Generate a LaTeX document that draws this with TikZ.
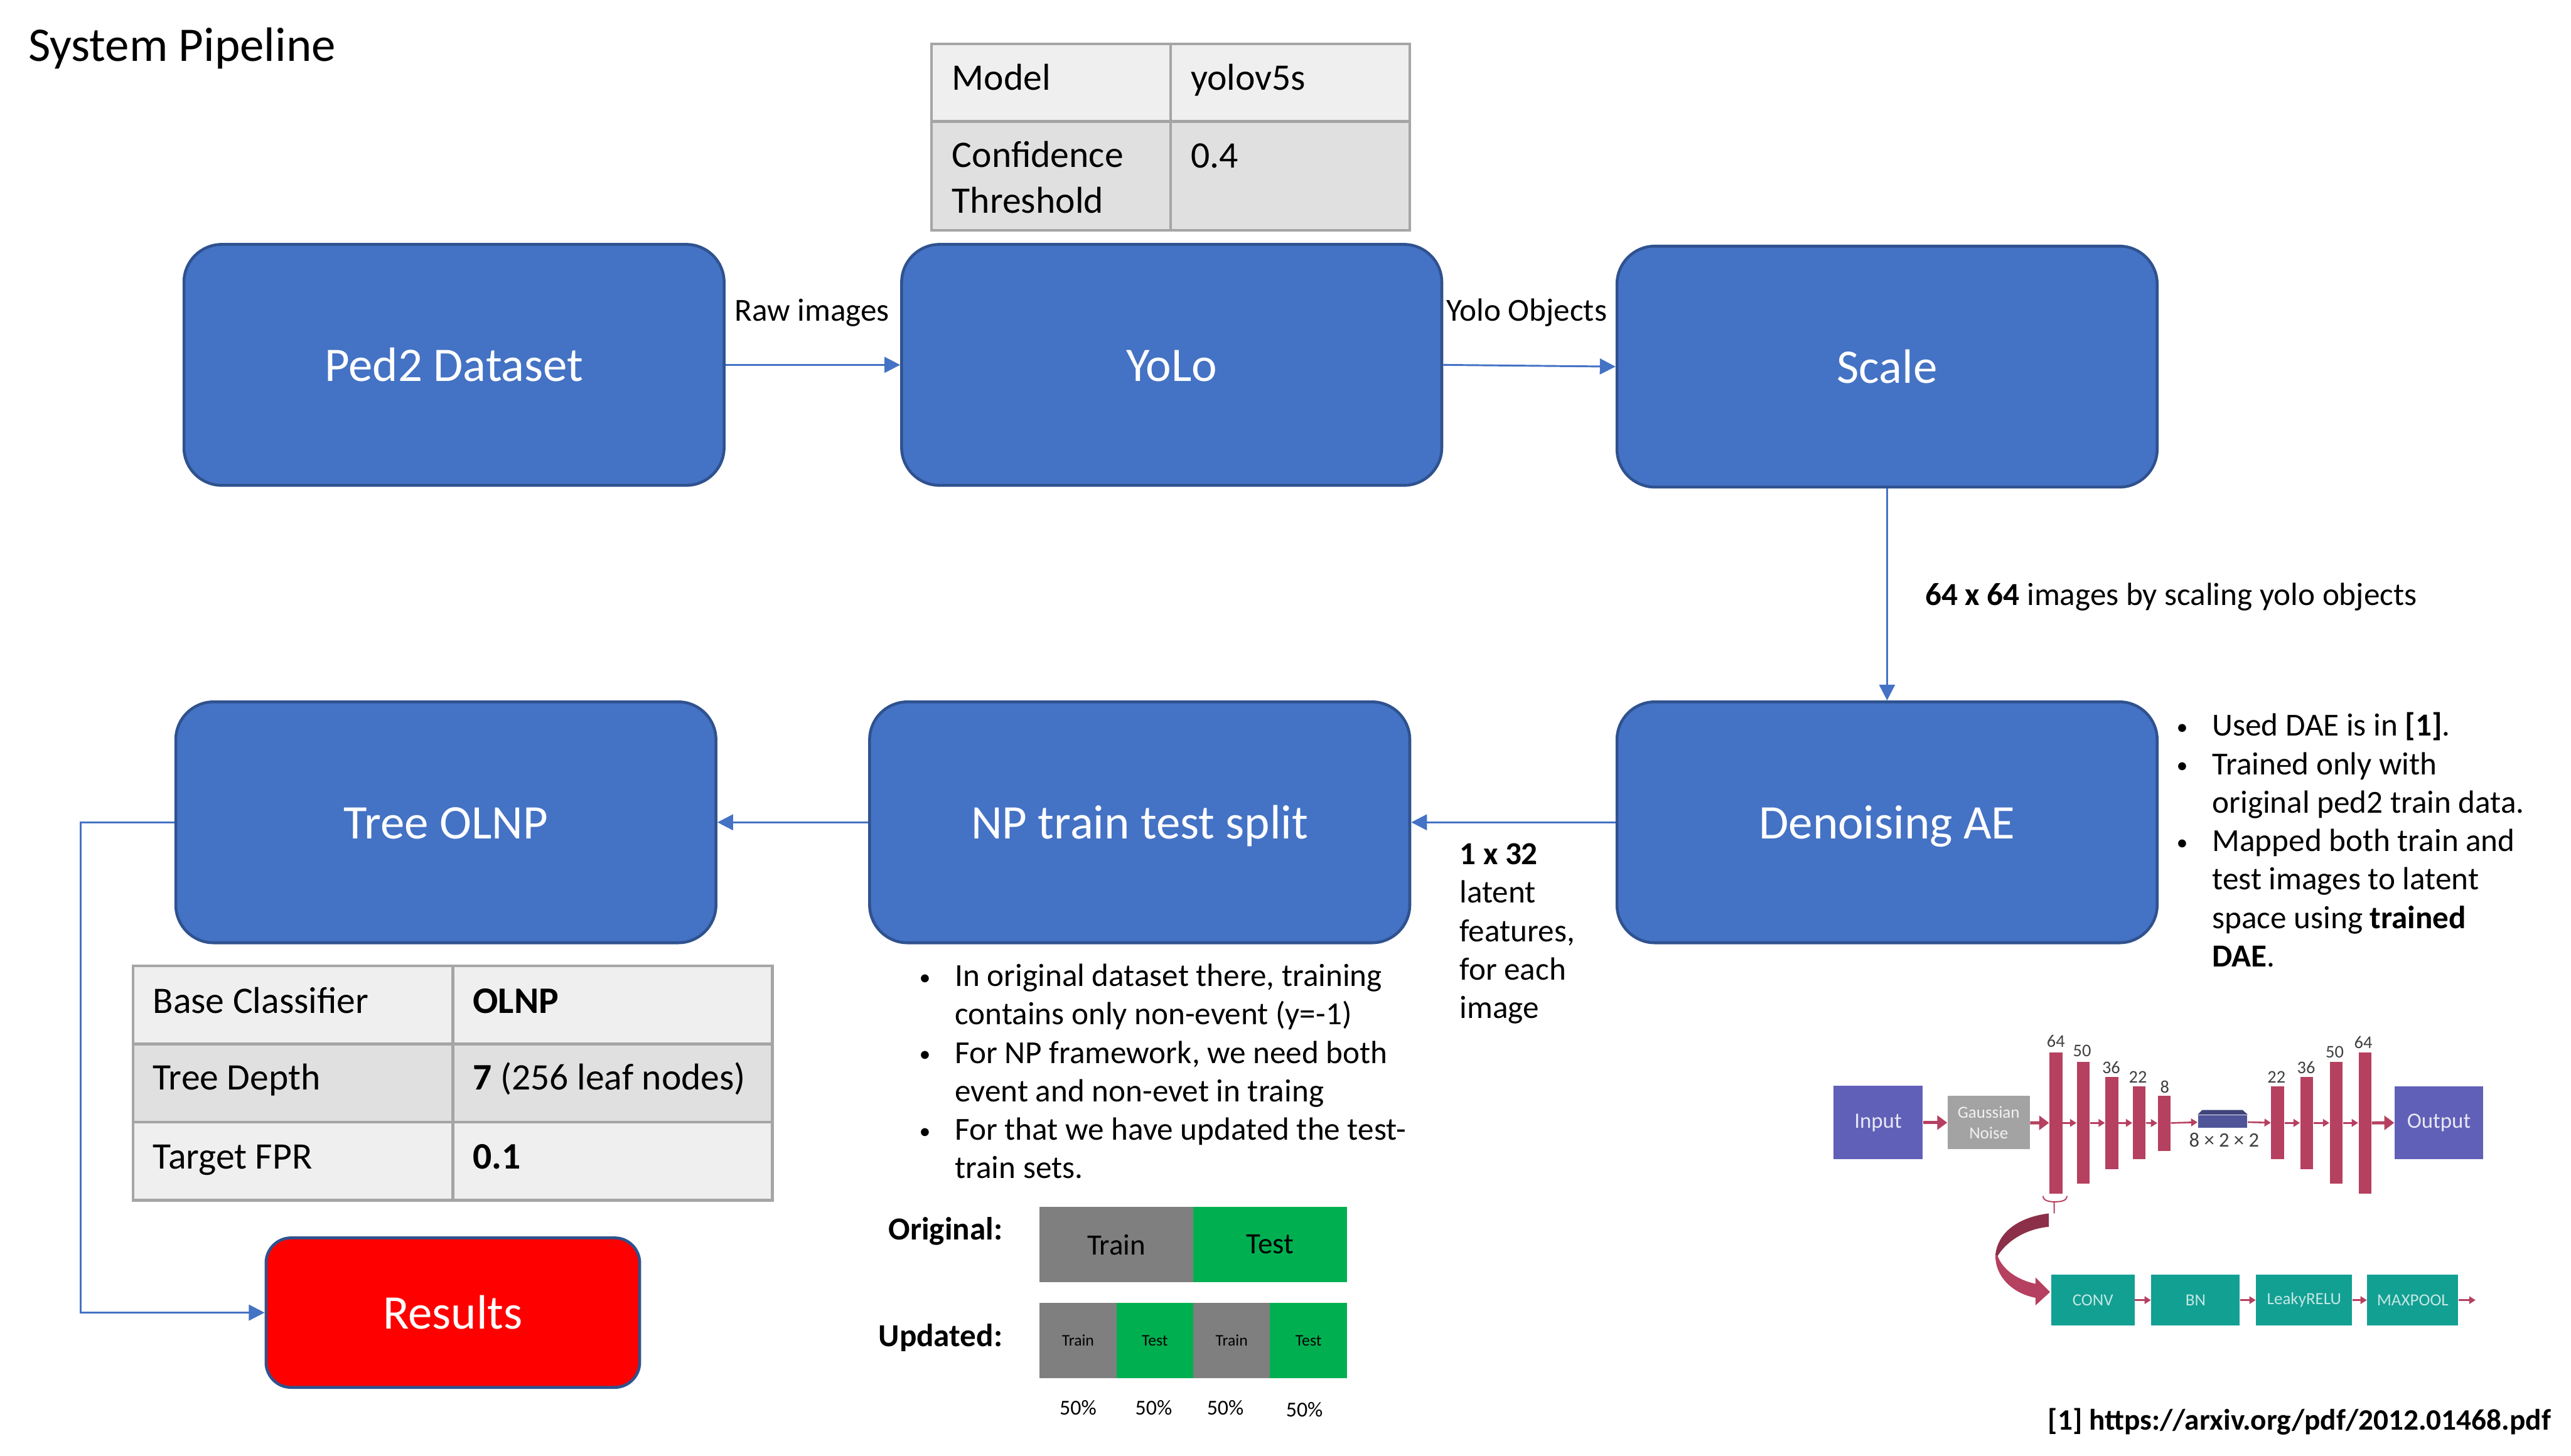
\documentclass[tikz,border=0pt]{standalone}
\usepackage{fontspec}
\setmainfont{Carlito}
\usetikzlibrary{positioning, arrows.meta, calc}
\definecolor{boxblue}{HTML}{4472C4}
\definecolor{boxedge}{HTML}{2F528F}
\definecolor{tablegrid}{HTML}{A5A5A5}
\definecolor{rowlight}{HTML}{EFEFEF}
\definecolor{rowdark}{HTML}{E0E0E0}
\definecolor{traingray}{HTML}{7F7F7F}
\definecolor{testgreen}{HTML}{00B050}
\definecolor{netpurple}{HTML}{6060B8}
\definecolor{netgray}{HTML}{A3A3A3}
\definecolor{netred}{HTML}{B5405F}
\definecolor{netreddark}{HTML}{8B3048}
\definecolor{netteal}{HTML}{12A093}
\definecolor{netblock}{HTML}{50559A}
\newcommand{\bitem}{\llap{\raisebox{0.7pt}{\fontsize{11}{11}\selectfont\textbullet}\hspace{4.2mm}}}

\begin{document}
\begin{tikzpicture}[
    % Styles
    stagebox/.style={rectangle, draw=boxedge, line width=1.4pt, fill=boxblue, rounded corners=6.5mm, minimum width=9.28cm, minimum height=4.14cm, text=white, text height=0.66cm, text depth=0.1cm, font=\fontsize{23.6}{28}\selectfont},
    resultbox/.style={stagebox, fill=red, rounded corners=4.3mm, minimum width=6.42cm, minimum height=2.57cm},
    cell/.style={rectangle, draw=tablegrid, line width=1.3pt, minimum height=1.34cm},
    celltext/.style={anchor=base west, inner sep=0pt, align=left, font=\fontsize{18.3}{22.5}\selectfont},
    note/.style={inner sep=0pt, align=left, font=\fontsize{15.7}{18.8}\selectfont},
    splitcell/.style={rectangle, minimum height=1.29cm, inner sep=0pt},
    arrow/.style={-{Triangle[length=2.7mm,width=2.7mm]}, line width=0.9pt, boxblue},
    netbox/.style={rectangle, inner sep=0pt, font=\fontsize{10.7}{12.8}\selectfont, text=white!85!netpurple},
    barnode/.style={rectangle, fill=netred, inner sep=0pt, minimum width=0.22cm},
    tealbox/.style={rectangle, fill=netteal, inner sep=0pt, minimum height=0.87cm, font=\fontsize{8.3}{10}\selectfont, text=white!75!netteal},
    sizelabel/.style={inner sep=0pt, text=black!75, font=\fontsize{8.7}{10}\selectfont},
    netarrow/.style={-{Triangle[length=1.1mm,width=1.3mm]}, line width=0.8pt, netred},
    fatarrow/.style={-{Triangle[length=1.7mm,width=2.4mm]}, line width=1.5pt, netred}
]
\useasboundingbox (0,0) rectangle (44.17,25.01);

% ==================== TITLE ====================
\node[anchor=west, inner sep=0pt, font=\fontsize{23.6}{28}\selectfont] (title) at (0.48, 24.18) {System Pipeline};

% ==================== PIPELINE ====================
\node[stagebox] (ped) at (7.80, 18.74) {Ped2 Dataset};
\node[stagebox] (yolo) at (20.13, 18.74) {YoLo};
\node[stagebox] (scale) at (32.42, 18.71) {Scale};
\node[stagebox] (dae) at (32.42, 10.88) {Denoising AE};
\node[stagebox] (split) at (19.58, 10.88) {NP train test split};
\node[stagebox] (tree) at (7.66, 10.88) {Tree OLNP};
\node[resultbox] (results) at (7.78, 2.455) {Results};

\draw[arrow] (ped.east) -- (yolo.west);
\draw[arrow] (yolo.east) -- (scale.west);
\draw[arrow] (scale.south) -- (dae.north);
\draw[arrow] (dae.west) -- (split.east);
\draw[arrow] (split.west) -- (tree.east);
\draw[arrow] (tree.west) -- ++(-1.61,0) |- (results.west);

\node[note] (rawlabel) at (13.95, 19.635) {Raw images};
\node[note] (objlabel) at (26.23, 19.635) {Yolo Objects};
\node[note, anchor=west] (scalelabel) at (33.07, 14.75) {\textbf{64 x 64} images by scaling yolo objects};
\node[note, anchor=west] (latentlabel) at (25.07, 8.965) {\textbf{1 x 32}\\latent\\features,\\for each\\image};

% ==================== YOLO TABLE ====================
\node[cell, fill=rowlight, minimum width=4.11cm, minimum height=1.335cm] (modelcell) at (18.055, 23.59) {};
\node[cell, fill=rowlight, minimum width=4.11cm, minimum height=1.335cm] (modelval) at (22.165, 23.59) {};
\node[cell, fill=rowdark, minimum width=4.11cm, minimum height=1.87cm] (confcell) at (18.055, 21.985) {};
\node[cell, fill=rowdark, minimum width=4.11cm, minimum height=1.87cm] (confval) at (22.165, 21.985) {};
\node[celltext] (modeltext) at (16.35, 23.46) {Model};
\node[celltext] (yolotext) at (20.45, 23.46) {yolov5s};
\node[celltext] (conftext) at (16.35, 21.35) {Confidence\\Threshold};
\node[celltext] (conftextval) at (20.45, 22.12) {0.4};

% ==================== TREE TABLE ====================
\node[cell, fill=rowlight, minimum width=5.49cm] (basecell) at (5.035, 7.74) {};
\node[cell, fill=rowlight, minimum width=5.49cm] (baseval) at (10.525, 7.74) {};
\node[cell, fill=rowdark, minimum width=5.49cm] (depthcell) at (5.035, 6.395) {};
\node[cell, fill=rowdark, minimum width=5.49cm] (depthval) at (10.525, 6.395) {};
\node[cell, fill=rowlight, minimum width=5.49cm] (fprcell) at (5.035, 5.055) {};
\node[cell, fill=rowlight, minimum width=5.49cm] (fprval) at (10.525, 5.055) {};
\node[celltext] (basetext) at (2.62, 7.60) {Base Classifier};
\node[celltext] (olnptext) at (8.12, 7.60) {\textbf{OLNP}};
\node[celltext] (depthtext) at (2.62, 6.28) {Tree Depth};
\node[celltext] (leaftext) at (8.12, 6.28) {\textbf{7} (256 leaf nodes)};
\node[celltext] (fprtext) at (2.62, 4.93) {Target FPR};
\node[celltext] (fprnum) at (8.12, 4.93) {\textbf{0.1}};

% ==================== NOTES ====================
\node[note, anchor=west] (splitnotes) at (16.40, 6.60) {\bitem In original dataset there, training\\contains only non-event (y=-1)\\\bitem For NP framework, we need both\\event and non-evet in traing\\\bitem For that we have updated the test-\\train sets.};
\node[note, anchor=west] (daenotes) at (38.00, 10.58) {\bitem Used DAE is in \textbf{[1]}.\\\bitem Trained only with\\original ped2 train data.\\\bitem Mapped both train and\\test images to latent\\space using \textbf{trained}\\\textbf{DAE}.};

% ==================== TRAIN TEST SPLITS ====================
\node[note, anchor=east, font=\fontsize{15.7}{18.8}\selectfont\bfseries] (origlabel) at (17.23, 3.85) {Original:};
\node[note, anchor=east, font=\fontsize{15.7}{18.8}\selectfont\bfseries] (updlabel) at (17.23, 2.02) {Updated:};

\node[splitcell, fill=traingray, minimum width=2.64cm, font=\fontsize{14.4}{17}\selectfont] (origtrain) at (19.18, 3.625) {Train};
\node[splitcell, fill=testgreen, minimum width=2.64cm, font=\fontsize{14.4}{17}\selectfont] (origtest) at (21.82, 3.625) {Test};
\node[splitcell, fill=traingray, minimum width=1.32cm, font=\fontsize{7.9}{9}\selectfont] (updtraina) at (18.52, 1.975) {Train};
\node[splitcell, fill=testgreen, minimum width=1.32cm, font=\fontsize{7.9}{9}\selectfont] (updtesta) at (19.84, 1.975) {Test};
\node[splitcell, fill=traingray, minimum width=1.32cm, font=\fontsize{7.9}{9}\selectfont] (updtrainb) at (21.16, 1.975) {Train};
\node[splitcell, fill=testgreen, minimum width=1.32cm, font=\fontsize{7.9}{9}\selectfont] (updtestb) at (22.48, 1.975) {Test};

\node[inner sep=0pt, font=\fontsize{10.4}{12}\selectfont] (pcta) at (18.52, 0.82) {50\%};
\node[inner sep=0pt, font=\fontsize{10.4}{12}\selectfont] (pctb) at (19.82, 0.82) {50\%};
\node[inner sep=0pt, font=\fontsize{10.4}{12}\selectfont] (pctc) at (21.05, 0.82) {50\%};
\node[inner sep=0pt, font=\fontsize{10.4}{12}\selectfont] (pctd) at (22.41, 0.79) {50\%};

% ==================== DAE NETWORK ====================
\node[netbox, fill=netpurple, minimum width=1.53cm, minimum height=1.26cm] (input) at (32.265, 5.72) {Input};
\node[netbox, fill=netgray, minimum width=1.41cm, minimum height=0.92cm, align=center, font=\fontsize{8.3}{10}\selectfont, text=white!85!netgray] (noise) at (34.165, 5.72) {Gaussian\\Noise};
\node[barnode, minimum height=2.43cm] (enca) at (35.32, 5.715) {};
\node[barnode, minimum height=2.09cm] (encb) at (35.79, 5.715) {};
\node[barnode, minimum height=1.58cm] (encc) at (36.28, 5.715) {};
\node[barnode, minimum height=1.25cm] (encd) at (36.75, 5.715) {};
\node[barnode, minimum height=0.95cm] (ence) at (37.18, 5.71) {};
\node[rectangle, fill=netblock, inner sep=0pt, minimum width=0.85cm, minimum height=0.22cm] (latent) at (38.185, 5.74) {};
\fill[netblock!80!black] (latent.north west) -- ++(0.08,0.08) -- ($(latent.north east)+(-0.09,0.08)$) -- (latent.north east) -- cycle;
\node[barnode, minimum height=1.25cm] (decd) at (39.13, 5.715) {};
\node[barnode, minimum height=1.58cm] (decc) at (39.63, 5.715) {};
\node[barnode, minimum height=2.09cm] (decb) at (40.135, 5.715) {};
\node[barnode, minimum height=2.43cm] (deca) at (40.63, 5.715) {};
\node[netbox, fill=netpurple, minimum width=1.52cm, minimum height=1.25cm] (output) at (41.90, 5.72) {Output};

\node[sizelabel] (sizea) at (35.32, 7.12) {64};
\node[sizelabel] (sizeb) at (35.77, 6.95) {50};
\node[sizelabel] (sizec) at (36.27, 6.67) {36};
\node[sizelabel] (sized) at (36.73, 6.50) {22};
\node[sizelabel] (sizee) at (37.19, 6.33) {8};
\node[sizelabel, font=\fontsize{10}{12}\selectfont] (sizelatent) at (38.21, 5.42) {8 × 2 × 2};
\node[sizelabel] (sizef) at (39.11, 6.50) {22};
\node[sizelabel] (sizeg) at (39.62, 6.67) {36};
\node[sizelabel] (sizeh) at (40.11, 6.93) {50};
\node[sizelabel] (sizei) at (40.60, 7.10) {64};

\draw[fatarrow] (input) -- (noise);
\draw[fatarrow] (noise) -- (enca);
\draw[netarrow] (enca) -- (encb);
\draw[netarrow] (encb) -- (encc);
\draw[netarrow] (encc) -- (encd);
\draw[netarrow] (encd) -- (ence);
\draw[netarrow] (ence) -- (latent);
\draw[netarrow] (latent) -- (decd);
\draw[netarrow] (decd) -- (decc);
\draw[netarrow] (decc) -- (decb);
\draw[netarrow] (decb) -- (deca);
\draw[fatarrow] (deca) -- (output);

% Layer detail
\node[tealbox, minimum width=1.43cm] (conv) at (35.955, 2.67) {CONV};
\node[tealbox, minimum width=1.52cm] (bn) at (37.72, 2.67) {BN};
\node[tealbox, minimum width=1.65cm] (leaky) at (39.585, 2.67) {LeakyRELU};
\node[tealbox, minimum width=1.56cm] (maxpool) at (41.45, 2.67) {MAXPOOL};
\coordinate (poolend) at (42.53, 2.67);

\draw[netarrow] (conv) -- (bn);
\draw[netarrow] (bn) -- (leaky);
\draw[netarrow] (leaky) -- (maxpool);
\draw[netarrow] (maxpool) -- (poolend);

\draw[netred, line width=0.6pt] (35.10, 4.46) to[out=-90, in=180] (35.29, 4.36) to[out=0, in=-90] (35.51, 4.46) (35.29, 4.36) -- (35.29, 4.16);
\fill[netreddark] (35.20, 4.16) .. controls (34.70, 4.10) and (34.32, 3.85) .. (34.28, 3.44) -- (34.32, 3.43) .. controls (34.50, 3.72) and (34.85, 3.90) .. (35.20, 3.93) -- cycle;
\fill[netred] (34.28, 3.44) .. controls (34.28, 3.05) and (34.60, 2.78) .. (34.97, 2.71) -- (34.97, 2.58) -- (35.22, 2.81) -- (34.97, 3.06) -- (34.97, 2.95) .. controls (34.65, 3.02) and (34.40, 3.20) .. (34.32, 3.43) -- cycle;

% ==================== REFERENCE ====================
\node[note, anchor=east, font=\fontsize{14.5}{17.5}\selectfont\bfseries] (reftext) at (43.83, 0.58) {[1] https://arxiv.org/pdf/2012.01468.pdf};

\end{tikzpicture}
\end{document}
